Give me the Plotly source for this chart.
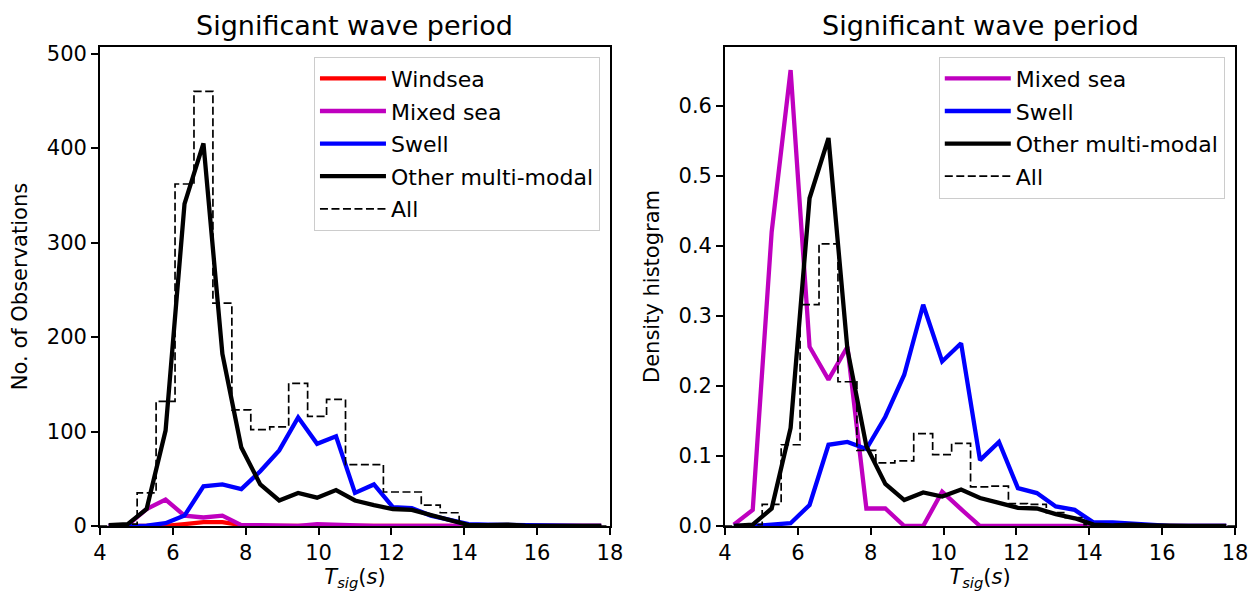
import plotly.graph_objects as go
from plotly.subplots import make_subplots

# bin centres of the Tsig histogram (s)
bin_centers = [4.24, 4.76, 5.28, 5.80, 6.32, 6.84, 7.36, 7.88, 8.40, 8.92,
               9.44, 9.96, 10.48, 11.00, 11.52, 12.04, 12.56, 13.08, 13.60,
               14.12, 14.64, 15.16, 15.68, 16.20, 16.72, 17.24, 17.76]

# left panel: number of observations
windsea_n = [0, 0, 0, 0, 2, 4, 4, 1, 0, 0, 1, 0, 0, 0, 0, 0, 0, 0, 0, 0, 0, 0, 0, 0, 0, 0, 0]
mixed_n = [0, 1, 18, 28, 11, 9, 11, 1, 1, 0, 0, 2, 1, 0, 0, 0, 0, 0, 0, 0, 0, 0, 0, 0, 0, 0, 0]
swell_n = [0, 0, 0.5, 3, 11, 42, 44, 39, 58, 80, 115, 87, 95, 35, 44, 20, 19, 11, 7, 2, 1.5, 1, 0.5, 0, 0, 0, 0]
other_n = [1, 2, 18, 101, 341, 405, 182, 83, 44, 27, 35, 30, 38, 27, 22, 18, 17, 12, 7, 1, 1, 1.5, 0.5, 0, 0, 0, 0]
all_n = [0, 2, 35, 132, 362, 460, 236, 123, 102, 105, 151, 116, 134, 65, 65, 36, 36, 22, 14, 2, 2, 2, 1, 0.5, 0, 0, 0]

# right panel: density
mixed_d = [0.002, 0.023, 0.420, 0.651, 0.256, 0.209, 0.256, 0.025, 0.025, 0, 0, 0.049, 0.024,
           0, 0, 0, 0, 0, 0, 0, 0, 0, 0, 0, 0, 0, 0]
swell_d = [0, 0, 0.002, 0.004, 0.030, 0.116, 0.120, 0.110, 0.156, 0.216, 0.316, 0.235, 0.261,
           0.094, 0.120, 0.054, 0.047, 0.028, 0.023, 0.005, 0.005, 0.003, 0.002, 0, 0, 0, 0]
other_d = [0, 0.002, 0.025, 0.140, 0.468, 0.554, 0.252, 0.114, 0.060, 0.037, 0.048, 0.042, 0.052,
           0.040, 0.033, 0.026, 0.025, 0.017, 0.011, 0.002, 0.001, 0.002, 0.001, 0, 0, 0, 0]
all_d = [0, 0.002, 0.031, 0.116, 0.316, 0.403, 0.206, 0.108, 0.090, 0.093, 0.132, 0.102, 0.118,
         0.056, 0.057, 0.032, 0.031, 0.019, 0.012, 0.002, 0.002, 0.002, 0.001, 0, 0, 0, 0]

x_ticks = [4, 6, 8, 10, 12, 14, 16, 18]

# step outline for the "All" histogram
half = (bin_centers[1] - bin_centers[0]) / 2
edges = [c - half for c in bin_centers] + [bin_centers[-1] + half]
step_x = [edges[0]] + edges[:-1] + [edges[-1]]

FONT = "DejaVu Sans"
FS = 21

fig = make_subplots(rows=1, cols=2)

def add_line(name, y, color, col, legend):
    fig.add_trace(go.Scatter(x=bin_centers, y=y, mode="lines", name=name,
                             line=dict(color=color, width=4.3),
                             legend=legend, legendgroup=name + legend),
                  row=1, col=col)

def add_step(y, col, legend):
    fig.add_trace(go.Scatter(x=step_x, y=[0] + y + [0], mode="lines", name="All",
                             line=dict(color="black", width=1.7, dash="8px,3.5px", shape="hv"),
                             legend=legend, legendgroup="All" + legend),
                  row=1, col=col)

add_line("Windsea", windsea_n, "#ff0000", 1, "legend")
add_line("Mixed sea", mixed_n, "#bf00bf", 1, "legend")
add_line("Swell", swell_n, "#0000ff", 1, "legend")
add_line("Other multi-modal", other_n, "black", 1, "legend")
add_step(all_n, 1, "legend")

add_line("Mixed sea", mixed_d, "#bf00bf", 2, "legend2")
add_line("Swell", swell_d, "#0000ff", 2, "legend2")
add_line("Other multi-modal", other_d, "black", 2, "legend2")
add_step(all_d, 2, "legend2")

axis_style = dict(showline=True, mirror=True, linecolor="black", linewidth=1.7,
                  ticks="outside", ticklen=7, tickwidth=1.5, tickcolor="black", automargin=False,
                  showgrid=False, zeroline=False, tickfont=dict(family=FONT, size=FS, color="black"))

xlabel = "<i>T</i><sub><i>sig</i></sub>(<i>s</i>)"
fig.update_xaxes(axis_style, range=[4, 18], tickvals=x_ticks,
                 title=dict(text=xlabel, font=dict(family=FONT, size=FS, color="black"), standoff=2))
fig.update_xaxes(domain=[0, 0.4493], row=1, col=1)
fig.update_xaxes(domain=[0.5507, 1], row=1, col=2)
fig.update_yaxes(axis_style)
fig.update_yaxes(range=[0, 507], tickvals=[0, 100, 200, 300, 400, 500], row=1, col=1,
                 title=dict(text="No. of Observations", font=dict(family=FONT, size=FS, color="black"), standoff=15))
fig.update_yaxes(range=[0, 0.684], tickvals=[0, 0.1, 0.2, 0.3, 0.4, 0.5, 0.6],
                 ticktext=["0.0", "0.1", "0.2", "0.3", "0.4", "0.5", "0.6"], row=1, col=2,
                 title=dict(text="Density histogram", font=dict(family=FONT, size=FS, color="black"), standoff=13))

legend_style = dict(yanchor="top", y=0.98, xanchor="right", bgcolor="rgba(255,255,255,0.8)",
                    bordercolor="#cccccc", borderwidth=1, tracegroupgap=1, itemwidth=66,
                    font=dict(family=FONT, size=22, color="black"))

for cx in [0.4493 / 2, (0.5507 + 1) / 2]:
    fig.add_annotation(text="Significant wave period", x=cx, y=1.045, xref="paper", yref="paper",
                       showarrow=False, xanchor="center", yanchor="middle",
                       font=dict(family=FONT, size=27, color="black"))

# the page adds an 8px offset around the figure, so the canvas is 8px smaller
fig.update_layout(
    width=1250, height=586,
    margin=dict(l=92, r=23, t=39, b=68, autoexpand=False),
    plot_bgcolor="white", paper_bgcolor="white",
    font=dict(family=FONT, size=FS, color="black"),
    legend=dict(legend_style, x=0.4405),
    legend2=dict(legend_style, x=0.991),
)

fig.write_html("out.html")
